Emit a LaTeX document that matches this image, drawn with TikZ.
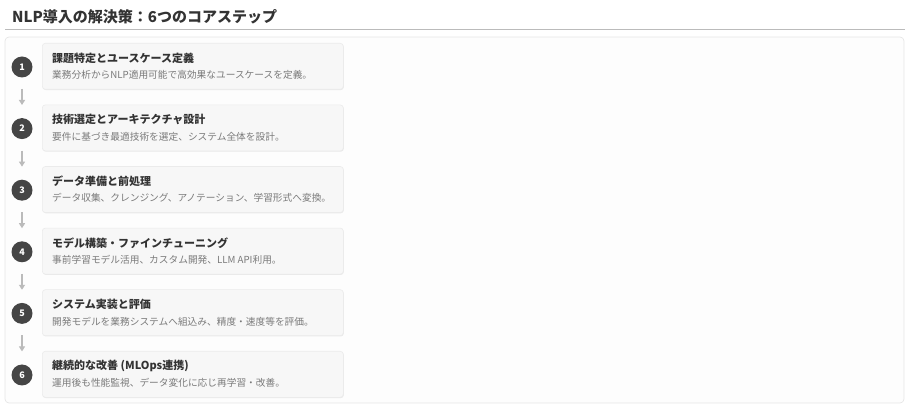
\documentclass[tikz,border=0pt]{standalone}
\usepackage{fontspec}
\setmainfont{Noto Sans CJK JP}
\usetikzlibrary{arrows.meta,shadows}
\definecolor{titlec}{HTML}{333333}
\definecolor{rulec}{HTML}{BBBBBB}
\definecolor{panelb}{HTML}{E6E6E6}
\definecolor{panelf}{HTML}{FDFDFD}
\definecolor{cardf}{HTML}{F7F7F7}
\definecolor{cardb}{HTML}{EBEBEB}
\definecolor{circf}{HTML}{454545}
\definecolor{descc}{HTML}{7A7A7A}
\definecolor{arrc}{HTML}{BBBBBB}
\tikzset{
  card/.style={draw=cardb, fill=cardf, rounded corners=3pt, line width=0.6pt,
    minimum width=301pt, minimum height=46pt, anchor=north west, inner sep=0pt,
    drop shadow={shadow xshift=0.5pt, shadow yshift=-0.8pt, opacity=0.08, fill=black}},
  numc/.style={circle, fill=circf, text=white, minimum size=21pt, inner sep=0pt,
    font=\fontsize{9pt}{10pt}\selectfont\bfseries},
  ctitle/.style={anchor=west, inner sep=0pt, text=titlec, font=\fontsize{11pt}{13pt}\selectfont\bfseries},
  cdesc/.style={anchor=west, inner sep=0pt, text=descc, font=\fontsize{9.7pt}{11pt}\selectfont},
  flow/.style={draw=arrc, line width=1.2pt, -{Triangle[length=5pt,width=6pt]}},
}
\begin{document}
\begin{tikzpicture}[x=1pt,y=-1pt]
\useasboundingbox (0,0) rectangle (906,406);
\node[anchor=west, inner sep=0pt, text=titlec, font=\fontsize{15pt}{18pt}\selectfont\bfseries] (title) at (12,17) {NLP導入の解決策：6つのコアステップ};
\draw[rulec, line width=1pt] (5,29.5) coordinate (r1) -- (905,29.5) coordinate (r2);
\draw[draw=panelb, fill=panelf, rounded corners=4pt, line width=0.7pt] (5,37) rectangle (904,403);
\foreach \i/\t/\d in {
 1/課題特定とユースケース定義/業務分析からNLP適用可能で高効果なユースケースを定義。,
 2/技術選定とアーキテクチャ設計/要件に基づき最適技術を選定、システム全体を設計。,
 3/データ準備と前処理/データ収集、クレンジング、アノテーション、学習形式へ変換。,
 4/モデル構築・ファインチューニング/事前学習モデル活用、カスタム開発、LLM API利用。,
 5/システム実装と評価/開発モデルを業務システムへ組込み、精度・速度等を評価。,
 6/継続的な改善 (MLOps連携)/運用後も性能監視、データ変化に応じ再学習・改善。}{
  \pgfmathsetmacro{\yt}{43+61.6*(\i-1)}
  \node[card] (card\i) at (42,\yt) {};
  \node[ctitle] (t\i) at (52,\yt+15) {\t};
  \node[cdesc] (d\i) at (52,\yt+32) {\d};
  \node[numc] (n\i) at (22,\yt+24) {\i};
  \coordinate (as\i) at (22,\yt+46);
  \coordinate (ae\i) at (22,\yt+62);
}
\foreach \i in {1,...,5}{
  \draw[flow] (as\i) -- (ae\i);
}
\end{tikzpicture}
\end{document}
